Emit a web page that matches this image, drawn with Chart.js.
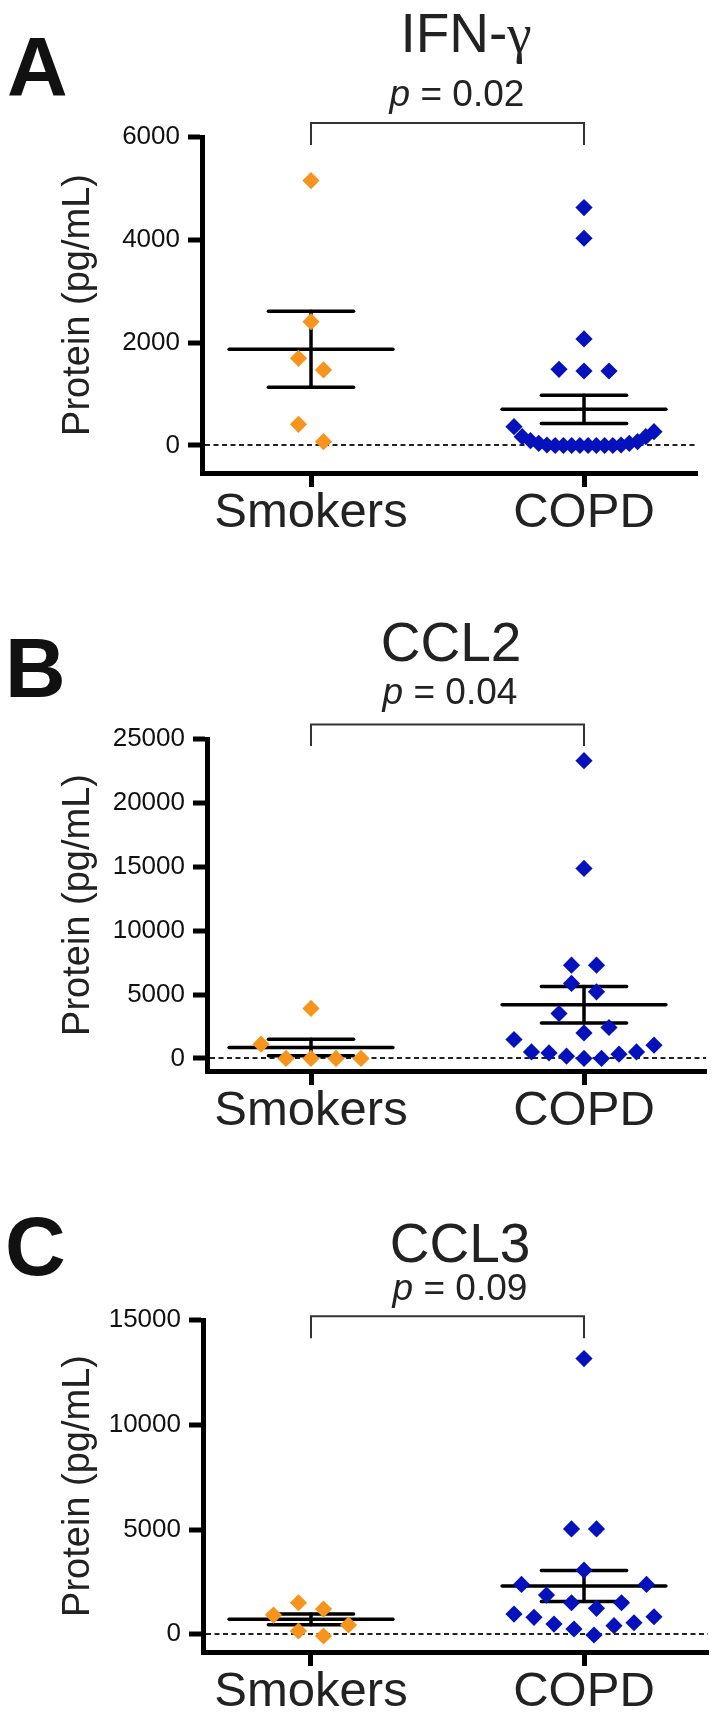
<!DOCTYPE html>
<html>
<head>
<meta charset="utf-8">
<script src="https://cdn.jsdelivr.net/npm/chart.js@4.4.0/dist/chart.umd.min.js"></script>
<style>
  body { margin: 0; background: #fff; width: 719px; height: 1721px; position: relative; overflow: hidden;
         font-family: 'Liberation Sans', Arial, Helvetica, sans-serif; color: #222; }
  .panel { position: absolute; left: 0; }
  .lab { position: absolute; font-weight: bold; font-size: 84px; line-height: 1; color: #111; z-index: 2; }
  .ttl { position: absolute; width: 400px; text-align: center; font-size: 55px; line-height: 1; z-index: 2; }
  .pv { position: absolute; width: 400px; text-align: center; font-size: 37px; line-height: 1; z-index: 2; }
  .g { font-family: 'Liberation Serif', 'DejaVu Serif', serif; }
</style>
</head>
<body>

<div class="lab" style="left:7px; top:25px">A</div>
<div class="ttl" style="left:266px; top:6px">IFN-<span class="g">γ</span></div>
<div class="pv" style="left:257px; top:75px"><i>p</i> = 0.02</div>
<div class="panel" style="top:0px"><canvas id="chartA" width="719" height="560"></canvas></div>

<div class="lab" style="left:5px; top:626px">B</div>
<div class="ttl" style="left:251px; top:615px">CCL2</div>
<div class="pv" style="left:250px; top:673px"><i>p</i> = 0.04</div>
<div class="panel" style="top:560px"><canvas id="chartB" width="719" height="580"></canvas></div>

<div class="lab" style="left:5px; top:1204px">C</div>
<div class="ttl" style="left:260px; top:1216px">CCL3</div>
<div class="pv" style="left:260px; top:1269px"><i>p</i> = 0.09</div>
<div class="panel" style="top:1140px"><canvas id="chartC" width="719" height="581"></canvas></div>

<script>
// categories
const groups = ['Smokers', 'COPD'];

// IFN-gamma (pg/mL)
const ifnSmokers = [5152, 2409, 1696, 1469, 412, 74];
const ifnCopd = [4627, 4031, 2072, 1482, 1449, 1449, 366, 268, 171, 171, 93, 74, 43, 43, 10, 10,
                 0, 0, 0, 0, 0, 0, 0, 0];
const ifnMean = [1872, 704];
const ifnSem = [739, 275];
const ifnTicks = [0, 2000, 4000, 6000];

// CCL2 (pg/mL)
const ccl2Smokers = [3908, 1112, 0, 0, 0, 0];
const ccl2Copd = [23300, 14870, 7300, 7300, 5865, 5208, 3516, 2420, 1997, 1480, 1034, 509, 509,
                  431, 329, 172, 0, 0];
const ccl2Mean = [853, 4200];
const ccl2Sem = [640, 1437];
const ccl2Ticks = [0, 5000, 10000, 15000, 20000, 25000];

// CCL3 (pg/mL)
const ccl3Smokers = [1505, 1205, 919, 443, 157, -81];
const ccl3Copd = [13157, 5028, 5028, 3062, 2381, 2381, 1871, 1505, 1505, 1238, 967, 838, 810,
                  552, 490, 410, 252, -33];
const ccl3Mean = [714, 2300];
const ccl3Sem = [260, 740];
const ccl3Ticks = [0, 5000, 10000, 15000];

const ORANGE = '#F7941E';
const BLUE = '#0512BC';
const MEAN_HALF = 0.30, CAP_HALF = 0.156;   // in category units
const BIN = 24, SPACE = 25, MAXW = 140;      // swarm layout, px

Chart.defaults.font.family = "'Liberation Sans', Arial, Helvetica, sans-serif";
Chart.defaults.color = '#1a1a1a';

// mean +/- SEM bars, drawn under the points
const meanSem = {
  id: 'meanSem',
  beforeDatasetsDraw(chart, args, opts) {
    const {ctx, scales: {x, y}} = chart;
    const line = (x1, y1, x2, y2) => { ctx.beginPath(); ctx.moveTo(x1, y1); ctx.lineTo(x2, y2); ctx.stroke(); };
    ctx.save();
    ctx.strokeStyle = '#000';
    ctx.lineWidth = 3.5;
    ctx.lineCap = 'round';
    opts.means.forEach((m, g) => {
      const c = g + 1, s = opts.sems[g];
      const hi = y.getPixelForValue(m + s), lo = y.getPixelForValue(m - s), ym = y.getPixelForValue(m);
      line(x.getPixelForValue(c - MEAN_HALF), ym, x.getPixelForValue(c + MEAN_HALF), ym);
      line(x.getPixelForValue(c - CAP_HALF), hi, x.getPixelForValue(c + CAP_HALF), hi);
      line(x.getPixelForValue(c - CAP_HALF), lo, x.getPixelForValue(c + CAP_HALF), lo);
      line(x.getPixelForValue(c), hi, x.getPixelForValue(c), lo);
    });
    ctx.restore();
  }
};

// significance bracket between the two groups
const bracket = {
  id: 'bracket',
  afterDraw(chart, args, opts) {
    const {ctx, scales: {x, y}} = chart;
    const x1 = x.getPixelForValue(1), x2 = x.getPixelForValue(2);
    const yt = y.getPixelForValue(opts.top), yl = y.getPixelForValue(opts.leg);
    ctx.save();
    ctx.strokeStyle = '#333';
    ctx.lineWidth = 2;
    ctx.beginPath();
    ctx.moveTo(x1, yl); ctx.lineTo(x1, yt); ctx.lineTo(x2, yt); ctx.lineTo(x2, yl);
    ctx.stroke();
    ctx.restore();
  }
};

// Prism-like scatter spread: near-equal values share a row, centred on the group
function swarm(values, center, xs, ys) {
  const unit = xs.getPixelForValue(2) - xs.getPixelForValue(1);
  const order = values.map((v, i) => i).sort((a, b) => values[a] - values[b]);
  const rows = [];
  let row = null;
  order.forEach(i => {
    if (!row || Math.abs(ys.getPixelForValue(values[i]) - ys.getPixelForValue(values[row[0]])) > BIN) {
      row = [i];
      rows.push(row);
    } else {
      row.push(i);
    }
  });
  const xpos = [];
  rows.forEach(r => {
    const n = r.length;
    const step = n > 1 ? Math.min(SPACE, MAXW / (n - 1)) : 0;
    r.forEach((i, k) => {
      let slot;
      if (n % 2) slot = k === 0 ? 0 : (k % 2 ? 1 : -1) * Math.ceil(k / 2);
      else slot = (k % 2 ? -1 : 1) * (Math.floor(k / 2) + 0.5);
      xpos[i] = center + slot * step / unit;
    });
  });
  return values.map((v, i) => ({x: xpos[i], y: v}));
}

function makePanel(id, p) {
  const canvas = document.getElementById(id);
  const W = canvas.width, H = canvas.height, XH = 60;
  const series = [p.smokers, p.copd];
  const cfg = {
    type: 'scatter',
    data: {
      datasets: series.map((vals, g) => ({
        label: groups[g],
        data: vals.map(v => ({x: g + 1, y: v})),
        pointStyle: 'rectRot',
        pointRadius: 8.6,
        pointHoverRadius: 8.6,
        backgroundColor: g ? BLUE : ORANGE,
        borderColor: g ? BLUE : ORANGE,
        borderWidth: 0
      }))
    },
    options: {
      responsive: false,
      maintainAspectRatio: false,
      devicePixelRatio: 1,
      animation: false,
      layout: { padding: { left: 0, top: p.area.t, right: W - p.area.r, bottom: H - p.area.b - XH } },
      plugins: {
        legend: { display: false },
        tooltip: { enabled: false },
        meanSem: { means: p.mean, sems: p.sem },
        bracket: p.bracket
      },
      scales: {
        x: {
          type: 'linear',
          min: p.xmin, max: p.xmax,
          afterBuildTicks: s => { s.ticks = groups.map((g, i) => ({value: i + 1})); },
          afterFit: s => { s.height = XH; },
          grid: { drawOnChartArea: false, drawTicks: true, tickLength: 14, tickWidth: 5, tickColor: '#000' },
          border: { width: 5, color: '#000' },
          ticks: {
            autoSkip: false, maxRotation: 0, minRotation: 0, padding: 2,
            font: { size: 49, lineHeight: 1 }, color: '#222',
            callback: v => groups[v - 1] || ''
          }
        },
        y: {
          type: 'linear',
          min: p.ymin, max: p.ymax,
          afterBuildTicks: s => { s.ticks = p.ticks.map(v => ({value: v})); },
          afterFit: s => { s.width = p.area.l; },
          grid: {
            color: c => (c.tick && c.tick.value === 0) ? '#222' : 'rgba(0,0,0,0)',
            lineWidth: 2, drawTicks: true, tickLength: 14, tickWidth: 5, tickColor: '#000'
          },
          border: { width: 5, color: '#000', dash: [5, 3.5] },
          ticks: { padding: 8, font: { size: 26 }, color: '#111', callback: v => String(v) },
          title: {
            display: true, text: 'Protein (pg/mL)', color: '#222',
            font: { size: 38, lineHeight: 1.2 }, padding: { top: 56, bottom: 0 }
          }
        }
      }
    },
    plugins: [meanSem, bracket]
  };
  const chart = new Chart(canvas, cfg);
  chart.data.datasets.forEach((ds, g) => {
    ds.data = swarm(series[g], g + 1, chart.scales.x, chart.scales.y);
  });
  chart.update('none');
  return chart;
}

makePanel('chartA', {
  smokers: ifnSmokers, copd: ifnCopd, mean: ifnMean, sem: ifnSem, ticks: ifnTicks,
  area: { l: 202, t: 137, r: 697, b: 473 },
  xmin: 0.6007, xmax: 2.4139, ymin: -535, ymax: 6000,
  bracket: { top: 6272, leg: 5845 }
});

makePanel('chartB', {
  smokers: ccl2Smokers, copd: ccl2Copd, mean: ccl2Mean, sem: ccl2Sem, ticks: ccl2Ticks,
  area: { l: 207, t: 179, r: 706, b: 511 },
  xmin: 0.619, xmax: 2.4469, ymin: -986, ymax: 25000,
  bracket: { top: 26135, leg: 24460 }
});

makePanel('chartC', {
  smokers: ccl3Smokers, copd: ccl3Copd, mean: ccl3Mean, sem: ccl3Sem, ticks: ccl3Ticks,
  area: { l: 203, t: 180, r: 708, b: 512 },
  xmin: 0.6044, xmax: 2.4542, ymin: -845, ymax: 15000,
  bracket: { top: 15182, leg: 14132 }
});
</script>
</body>
</html>
